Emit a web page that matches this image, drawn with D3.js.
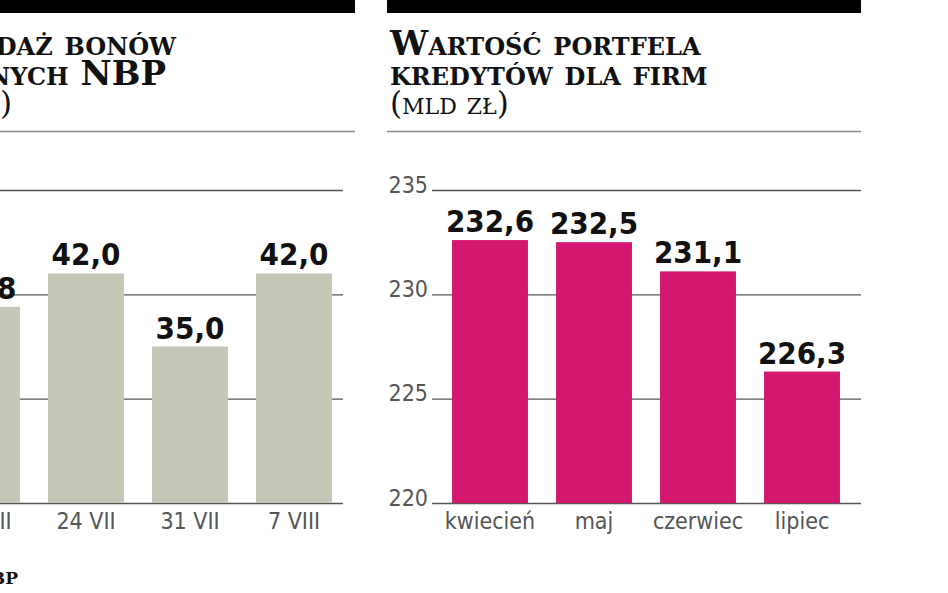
<!DOCTYPE html>
<html><head><meta charset="utf-8">
<script src="https://cdn.jsdelivr.net/npm/d3@7"></script>
<style>
body{margin:0;background:#fff;overflow:hidden}
svg{display:block}
.title{font-family:"DejaVu Serif",serif;font-weight:bold;font-variant:small-caps;font-size:34px;fill:#111}
.unit{font-family:"DejaVu Serif",serif;font-variant:small-caps;font-size:31px;fill:#111}
.val{font-family:"DejaVu Sans Condensed","DejaVu Sans",sans-serif;font-weight:bold;font-size:31px;fill:#111}
.tick text{font-family:"Liberation Sans Narrow","DejaVu Sans Condensed",sans-serif;font-size:23px;fill:#555}
</style></head><body>
<svg id="c" width="948" height="593"></svg>
<script>
// left chart (cropped in the reference)
var bonyCats = ['17 VII', '24 VII', '31 VII', '7 VIII'];
var bonyVals = [38.8, 42.0, 35.0, 42.0];
var bonyTicks = [20, 30, 40, 50];
// right chart
var kredCats = ['kwiecień', 'maj', 'czerwiec', 'lipiec'];
var kredVals = [232.6, 232.5, 231.1, 226.3];
var kredTicks = [220, 225, 230, 235];

var svg = d3.select('#c');
var fmt = function (v) { return v.toFixed(1).replace('.', ','); };

function panel(o) {
  var g = svg.append('g');
  g.append('rect').attr('x', o.x0).attr('y', 0).attr('width', o.x1 - o.x0).attr('height', 13).attr('fill', '#000');
  o.title.forEach(function (t, i) {
    g.append('text').attr('class', 'title').attr('x', o.tx[i]).attr('y', 55 + i * 30)
      .attr('text-anchor', o.anchor).text(t);
  });
  g.append('text').attr('class', 'unit').attr('x', o.tx[2]).attr('y', 114).attr('text-anchor', o.anchor).text(o.unit);
  g.append('line').attr('x1', o.x0).attr('x2', o.x1).attr('y1', 131.5).attr('y2', 131.5).attr('stroke', '#888').attr('stroke-width', 1.5);

  var y = d3.scaleLinear().domain(d3.extent(o.ticks)).range([503, 190]);
  var x = d3.scaleBand().domain(o.cats).range([o.bx0, o.bx1]).paddingInner(0.27).paddingOuter(0.135);

  g.selectAll('.grid').data(o.ticks).enter().append('line')
    .attr('x1', o.gx0).attr('x2', o.gx1)
    .attr('y1', function (d) { return y(d) + 0.5; }).attr('y2', function (d) { return y(d) + 0.5; })
    .attr('stroke', '#555').attr('stroke-width', 1.3);

  if (o.showY) {
    var ya = g.append('g').attr('class', 'tick').attr('transform', 'translate(' + (o.gx0 - 4) + ',0)')
      .call(d3.axisLeft(y).tickValues(o.ticks).tickSize(0).tickPadding(0));
    ya.select('.domain').remove();
    ya.selectAll('text').attr('dy', '0.1em');
  }

  g.selectAll('.bar').data(o.vals).enter().append('rect')
    .attr('x', function (d, i) { return x(o.cats[i]); })
    .attr('width', x.bandwidth())
    .attr('y', function (d) { return y(d); })
    .attr('height', function (d) { return y(o.ticks[0]) - y(d); })
    .attr('fill', o.color);

  g.selectAll('.val').data(o.vals).enter().append('text').attr('class', 'val')
    .attr('x', function (d, i) { return x(o.cats[i]) + x.bandwidth() / 2; })
    .attr('y', function (d) { return y(d) - 8; })
    .attr('text-anchor', 'middle').text(fmt);

  var xa = g.append('g').attr('class', 'tick').attr('transform', 'translate(0,506)')
    .call(d3.axisBottom(x).tickSize(0).tickPadding(6));
  xa.select('.domain').remove();
  xa.selectAll('text').attr('dy', '0.75em');
}

panel({x0: -120, x1: 355, tx: [176, 166, 12], anchor: 'end', title: ['Sprzedaż bonów', 'pieniężnych NBP'], unit: '(mld zł)',
  cats: bonyCats, vals: bonyVals, ticks: bonyTicks, bx0: -70, bx1: 346, gx0: -120, gx1: 343,
  color: '#c6c6b6', showY: false});
panel({x0: 387, x1: 861, tx: [390, 390, 390], anchor: 'start', title: ['Wartość portfela', 'kredytów dla firm'], unit: '(mld zł)',
  cats: kredCats, vals: kredVals, ticks: kredTicks, bx0: 438, bx1: 854, gx0: 432, gx1: 861,
  color: '#d4176f', showY: true});

svg.append('text').attr('x', 18).attr('y', 584).attr('text-anchor', 'end').attr('class', 'title').style('font-size', '17px').text('Źródło: NBP');
</script>
</body></html>
